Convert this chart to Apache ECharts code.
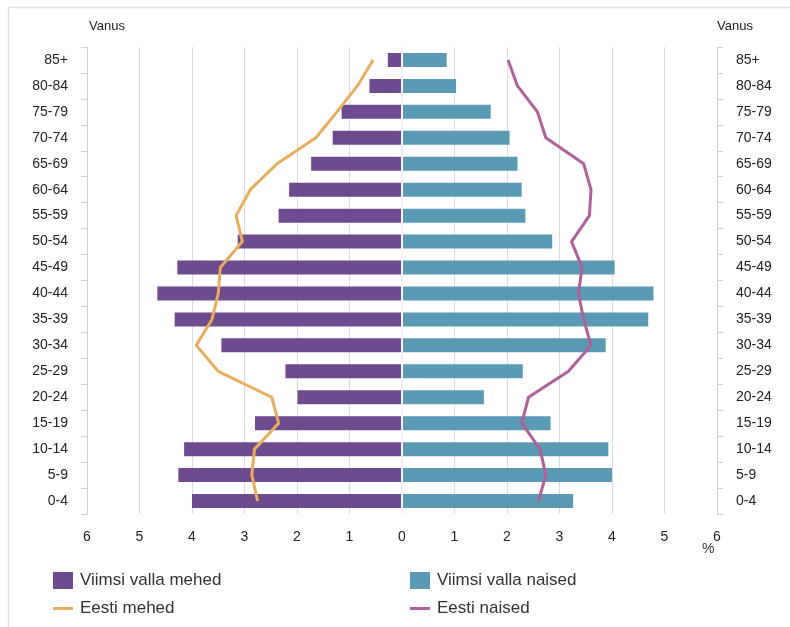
<!DOCTYPE html>
<html>
<head>
<meta charset="utf-8">
<script src="https://cdn.jsdelivr.net/npm/echarts@6/dist/echarts.min.js"></script>
<style>
html,body{margin:0;padding:0;background:#fff;}
#c{width:790px;height:627px;}
</style>
</head>
<body>
<div id="c"></div>
<script>
var ageGroups = ['0-4','5-9','10-14','15-19','20-24','25-29','30-34','35-39','40-44','45-49','50-54','55-59','60-64','65-69','70-74','75-79','80-84','85+'];
var viimsiMen   = [4.00,4.26,4.15,2.80,1.99,2.22,3.44,4.33,4.66,4.28,3.13,2.35,2.15,1.73,1.32,1.15,0.62,0.27];
var viimsiWomen = [3.26,4.00,3.93,2.83,1.56,2.30,3.88,4.69,4.79,4.05,2.86,2.35,2.28,2.20,2.05,1.69,1.03,0.85];
var estoniaMen  = [2.75,2.86,2.81,2.35,2.48,3.50,3.92,3.62,3.50,3.46,3.04,3.16,2.89,2.38,1.64,1.24,0.85,0.55];
var estoniaWomen= [2.60,2.74,2.63,2.28,2.41,3.17,3.60,3.46,3.36,3.43,3.23,3.57,3.60,3.46,2.74,2.58,2.20,2.02];
var xTicks = [-6,-5,-4,-3,-2,-1,0,1,2,3,4,5,6];

var neg = function(a){ return a.map(function(v){ return -v; }); };
var font = 'Liberation Sans, Arial, sans-serif';
var lineIcon = 'path://M0,0 M20,17 M0,7 L20,7 L20,10 L0,10 Z';
var catAxis = function(pos){
  return {
    type:'category', data: ageGroups, position: pos,
    name:'Vanus', nameLocation:'end', nameGap:14,
    nameTextStyle:{color:'#222', fontSize:13, fontFamily:font, align:'left', verticalAlign:'bottom', padding: pos==='left'?[0,0,0,2]:[0,0,0,0]},
    axisLine:{show:true, onZero:false, lineStyle:{color:'#d0d0d0'}},
    axisTick:{show:true, length:6, lineStyle:{color:'#d0d0d0'}},
    axisLabel:{color:'#222', fontSize:14, fontFamily:font, margin:19},
    splitLine:{show:false}
  };
};
var legendText = {color:'#333', fontSize:17, fontFamily:font, padding:[0,0,0,2]};
var chart = echarts.init(document.getElementById('c'), null, {renderer:'canvas'});
chart.setOption({
  animation:false,
  backgroundColor:'#fff',
  grid:{left:87, right:73, top:47, bottom:113},
  xAxis:{
    type:'value', min:xTicks[0], max:xTicks[xTicks.length-1], interval:1,
    axisLine:{show:false}, axisTick:{show:false},
    axisLabel:{color:'#222', fontSize:14, fontFamily:font, margin:16, formatter:function(v){return Math.abs(v);}},
    splitLine:{show:true, lineStyle:{color:'#dcdcdc', width:1}}
  },
  yAxis:[catAxis('left'), catAxis('right')],
  legend:[
    {data:[{name:'Viimsi valla mehed', icon:'rect'},{name:'Eesti mehed', icon:lineIcon}], orient:'vertical', left:53, top:572, padding:0, itemWidth:20, itemHeight:17, itemGap:11,
     textStyle:legendText, selectedMode:false},
    {data:[{name:'Viimsi valla naised', icon:'rect'},{name:'Eesti naised', icon:lineIcon}], orient:'vertical', left:410, top:572, padding:0, itemWidth:20, itemHeight:17, itemGap:11,
     textStyle:legendText, selectedMode:false}
  ],
  graphic:[
    {type:'rect', left:6, top:5, shape:{width:820, height:640}, style:{fill:'none', stroke:'#e3e3e3', lineWidth:1.5}, silent:true, z:-1},
    {type:'text', left:702, top:542, style:{text:'%', fill:'#333', font:'14px Liberation Sans, Arial'}}
  ],
  series:[
    {name:'Viimsi valla mehed', type:'bar', data:neg(viimsiMen), barWidth:14, barGap:'-100%', itemStyle:{color:'#6e4a8e'},
     markLine:{silent:true, symbol:'none', label:{show:false}, lineStyle:{color:'#f2f2f2', width:2, type:'solid'}, data:[{xAxis:0}]}},
    {name:'Viimsi valla naised', type:'bar', data:viimsiWomen, barWidth:14, barGap:'-100%', itemStyle:{color:'#5b9ab5'}},
    {name:'Eesti mehed', type:'line', data:neg(estoniaMen), symbol:'none', lineStyle:{color:'#e8ad5c', width:3}, itemStyle:{color:'#e8ad5c'}, z:5},
    {name:'Eesti naised', type:'line', data:estoniaWomen, symbol:'none', lineStyle:{color:'#b0609a', width:3}, itemStyle:{color:'#b0609a'}, z:5}
  ]
});
</script>
</body>
</html>
